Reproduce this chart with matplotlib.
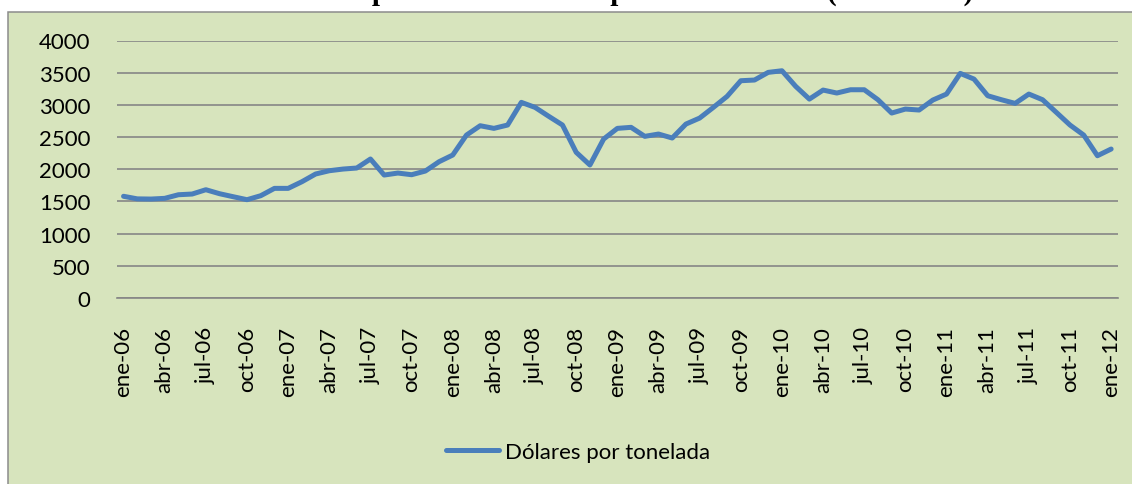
import matplotlib
matplotlib.use("Agg")
import matplotlib.pyplot as plt
from matplotlib.patches import Rectangle

# ---- data ----
years = ["06", "07", "08", "09", "10", "11", "12"]
months = ["ene", "feb", "mar", "abr", "may", "jun", "jul", "ago", "sep", "oct", "nov", "dic"]
categories = [f"{m}-{y}" for y in years for m in months][:73]  # ene-06 .. ene-12

precio = [
    1580, 1540, 1537, 1548, 1604, 1615, 1682, 1620, 1573, 1527, 1589, 1703,
    1703, 1806, 1926, 1977, 2003, 2019, 2159, 1910, 1941, 1915, 1972, 2117,
    2221, 2531, 2676, 2635, 2687, 3039, 2961, 2822, 2687, 2263, 2066, 2469,
    2635, 2651, 2511, 2547, 2485, 2702, 2795, 2961, 3132, 3375, 3386, 3505,
    3530, 3288, 3090, 3230, 3184, 3235, 3235, 3080, 2873, 2935, 2920, 3075,
    3168, 3489, 3401, 3142, 3080, 3023, 3168, 3080, 2884, 2687, 2531, 2210,
    2314,
]
series_label = "Dólares por tonelada"
yticks = [0, 500, 1000, 1500, 2000, 2500, 3000, 3500, 4000]
title = "Comportamiento de los precios del cacao (2006-2012)"

# ---- figure ----
W, H = 1132, 485
fig = plt.figure(figsize=(W / 100, H / 100), dpi=100)
fig.patch.set_facecolor("white")

bg = "#D7E4BD"
fig.patches.append(Rectangle((7.5 / W, -0.1), 1.2, 1 - 12.5 / H + 0.1,
                             transform=fig.transFigure, facecolor=bg,
                             edgecolor="#8C8C8C", linewidth=1.1, zorder=-10))

# partially cropped title (only descenders visible in the reference)
fig.text(0.568, 1 + 0.5 / H, title, ha="center", va="baseline",
         fontsize=21, fontweight="bold", family="Liberation Serif")

left, right = 116.7 / W, 1118 / W
top, bottom = 1 - 41.5 / H, 1 - 299 / H
ax = fig.add_axes([left, bottom, right - left, top - bottom])
ax.set_facecolor("none")

x = list(range(len(categories)))
ax.plot(x, precio, color="#4A7EBB", linewidth=3.6, solid_capstyle="round",
        solid_joinstyle="round", label=series_label, zorder=3)

ax.set_xlim(-0.5, len(categories) - 0.5)
ax.set_ylim(0, 4000)
ax.set_yticks(yticks)
ax.set_yticklabels([str(v) for v in yticks])
ax.yaxis.grid(True, color="#868686", linewidth=1.2)
ax.set_axisbelow(True)

tick_pos = x[::3]
ax.set_xticks(tick_pos)
ax.set_xticklabels([categories[i] for i in tick_pos], rotation=90)

for s in ["left", "right", "top"]:
    ax.spines[s].set_visible(False)
ax.spines["bottom"].set_color("#868686")
ax.spines["bottom"].set_linewidth(1.2)

ax.tick_params(axis="y", length=0, pad=19, labelsize=16)
ax.tick_params(axis="x", length=0, pad=20, labelsize=16)
for lab in ax.get_xticklabels() + ax.get_yticklabels():
    lab.set_family("Lato")
    lab.set_color("black")

leg = fig.legend(loc="center", bbox_to_anchor=(578 / W, 1 - 453 / H),
                 frameon=False, borderpad=0, handlelength=2.4,
                 handletextpad=0.25, prop={"family": "Lato", "size": 16})
for line in leg.get_lines():
    line.set_linewidth(3.6)
    line.set_solid_capstyle("round")

fig.savefig("out.png", dpi=100, facecolor=fig.get_facecolor())
